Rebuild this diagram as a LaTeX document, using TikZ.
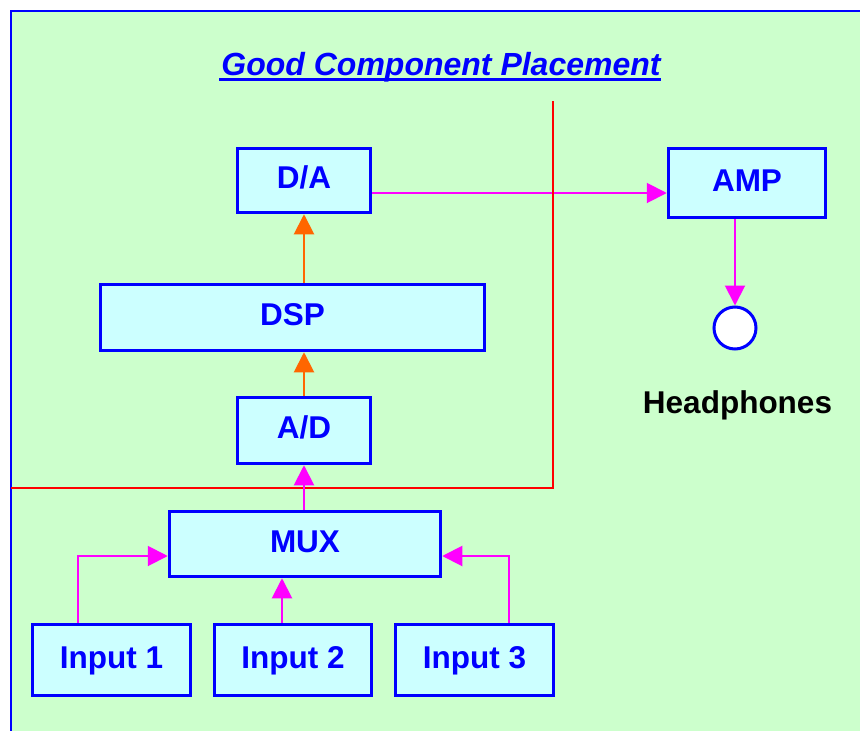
\documentclass[tikz,border=0pt]{standalone}
\usepackage{fontspec}
\setmainfont{Liberation Sans}
\usetikzlibrary{arrows.meta}
\definecolor{bg}{HTML}{CCFFCC}
\definecolor{boxfill}{HTML}{CCFFFF}
\definecolor{mag}{HTML}{FF00FF}
\definecolor{org}{HTML}{FF6600}
\definecolor{pblue}{HTML}{0000FF}
\begin{document}
\begin{tikzpicture}[x=1pt,y=-1pt,
  blk/.style={draw=pblue, fill=boxfill, line width=3.5pt, inner sep=0pt, text=pblue,
    font=\fontsize{31.5}{36}\selectfont\bfseries, text height=23pt, text depth=7pt},
  magarrow/.style={draw=mag, line width=2pt, -{Triangle[length=20pt,width=20pt,fill=mag]}},
  orgarrow/.style={draw=org, line width=2pt, -{Triangle[length=20pt,width=20pt,fill=org]}},
  redline/.style={draw=red, line width=1.5pt},
]
\useasboundingbox (0,0) rectangle (860,731);
\clip (0,0) rectangle (860,731);
\fill[white] (0,0) rectangle (860,731);
\draw[pblue, fill=bg, line width=2pt] (11,11) rectangle (880,750);

\node[font=\fontsize{32}{38}\selectfont\bfseries\itshape, text=pblue, inner sep=0pt, anchor=base]
  (title) at (441,75) {Good Component Placement};
\draw[pblue, line width=3pt] ([xshift=-2pt,yshift=-4pt]title.base west) -- ([yshift=-4pt]title.base east);

\node[blk, minimum width=133pt, minimum height=64pt] (da) at (304,180.5) {D/A};
\node[blk, minimum width=157pt, minimum height=69pt] (amp) at (747,183) {AMP};
\node[blk, minimum width=384pt, minimum height=66pt] (dsp) at (292.5,317.5) {DSP};
\node[blk, minimum width=133pt, minimum height=66pt] (ad) at (304,430.5) {A/D};
\node[blk, minimum width=271pt, minimum height=65pt] (mux) at (305,544) {MUX};
\node[blk, minimum width=158pt, minimum height=71pt] (in1) at (111.5,660) {Input 1};
\node[blk, minimum width=157pt, minimum height=71pt] (in2) at (293,660) {Input 2};
\node[blk, minimum width=158pt, minimum height=71pt] (in3) at (474.5,660) {Input 3};

\node[circle, draw=pblue, fill=white, line width=3pt, minimum size=42pt, inner sep=0pt] (hp) at (735,328) {};
\node[font=\fontsize{31.5}{36}\selectfont\bfseries, text=black, inner sep=0pt, anchor=base]
  (hplabel) at (737.5,413) {Headphones};

\coordinate (r1) at (553,101);
\coordinate (r2) at (553,488);
\coordinate (r3) at (11,488);

\draw[magarrow] ([yshift=-12.5pt]da.east) -- ([yshift=-12.5pt]da.east -| amp.west);
\draw[redline] (r1) -- (r2) -- (r3);
\draw[magarrow] ([xshift=-12pt]amp.south) -- ([xshift=-12pt]amp.south |- hp.north);
\draw[orgarrow] (ad.north) -- (ad.north |- dsp.south);
\draw[orgarrow] (da.south |- dsp.north) -- (da.south);
\draw[magarrow] (ad.south |- mux.north) -- (ad.south);
\draw[magarrow] ([xshift=-33.5pt]in1.north) |- ([yshift=-12pt]mux.west);
\draw[magarrow] ([xshift=-11pt]in2.north) -- ([xshift=-11pt]in2.north |- mux.south);
\draw[magarrow] ([xshift=34.5pt]in3.north) |- ([yshift=-12pt]mux.east);
\end{tikzpicture}
\end{document}
